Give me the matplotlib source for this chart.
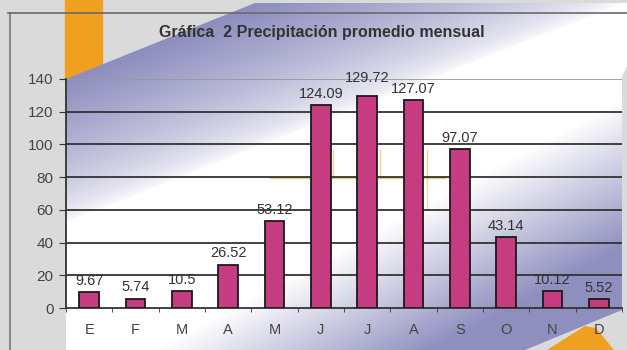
import numpy as np
import matplotlib.pyplot as plt
from matplotlib.patches import Polygon, Rectangle

plt.rcParams['font.family'] = ['Liberation Sans', 'DejaVu Sans']

# monthly data
meses = ['E', 'F', 'M', 'A', 'M', 'J', 'J', 'A', 'S', 'O', 'N', 'D']
precip = [9.67, 5.74, 10.5, 26.52, 53.12, 124.09, 129.72, 127.07, 97.07, 43.14, 10.12, 5.52]
etiquetas = ['9.67', '5.74', '10.5', '26.52', '53.12', '124.09', '129.72', '127.07',
             '97.07', '43.14', '10.12', '5.52']
yticks = [0, 20, 40, 60, 80, 100, 120, 140]

W, H = 627, 350
fig = plt.figure(figsize=(W / 100, H / 100), dpi=100)
fig.patch.set_facecolor('#dadada')

# slide background drawn in pixel coordinates
bg = fig.add_axes([0, 0, 1, 1])
bg.set_xlim(0, W)
bg.set_ylim(H, 0)
bg.axis('off')

bg.add_patch(Rectangle((65, 0), 37, 80, color='#f0a020', zorder=1))
bg.plot([10, 10], [13, H], color='#8a8a8a', lw=1.5, zorder=1)

# gradient panel: lavender at top-left and bottom-right, white in the middle
xx, yy = np.meshgrid(np.arange(W) + 0.5, np.arange(H) + 0.5)
t1 = np.clip(1 - ((xx - 60) / 560 + (yy - 5) / 220), 0, 1) ** 0.65
t2 = np.clip((xx - 350) / 280 + (yy - 200) / 150 - 0.3, 0, 1) * 0.75
t = np.maximum(t1, t2)
purple = np.array([105, 105, 170]) / 255
white = np.array([1.0, 1.0, 1.0])
img = white[None, None, :] * (1 - t[..., None]) + purple[None, None, :] * t[..., None]
panel = Polygon([(66, 79), (255, 3), (627, 3), (627, 66), (622, 76), (622, 310),
                 (525, 350), (66, 350)],
                closed=True, facecolor='none', edgecolor='none')
bg.add_patch(panel)
im = bg.imshow(img, extent=(0, W, H, 0), zorder=2, interpolation='bilinear')
im.set_clip_path(panel)

bg.plot([8, W], [13, 13], color='#6a6a6a', lw=1.2, zorder=3)
bg.add_patch(Polygon([(547, 350), (585, 326), (596, 328), (614, 350)], closed=True,
                     facecolor='#f0a020', edgecolor='none', zorder=3))

# faint orange pattern behind the bars
bg.plot([270, 445], [178, 178], color='#f0b040', lw=1, alpha=0.7, zorder=3)
for xv in [312, 333, 357, 380, 403, 427]:
    bg.plot([xv, xv], [150, 178], color='#f0b040', lw=1, alpha=0.6, zorder=3)
bg.plot([427, 427], [178, 208], color='#f0b040', lw=0.8, alpha=0.5, zorder=3)

fig.text(322 / W, 1 - 33 / H, 'Gráfica  2 Precipitación promedio mensual', ha='center',
         va='center', fontsize=11.5, fontweight='bold', color='#333333')

# chart
ax = fig.add_axes([66 / W, (H - 308) / H, (622 - 66) / W, (308 - 79) / H])
ax.patch.set_alpha(0)
x = np.arange(len(meses))
ax.bar(x, precip, width=0.42, color='#c63c80', edgecolor='#1a1a1a', linewidth=1.3, zorder=3)

ax.set_xlim(-0.5, len(meses) - 0.5)
ax.set_ylim(0, 140)
ax.set_yticks(yticks)
ax.set_yticklabels([str(v) for v in yticks], fontsize=11, color='#444444')
for v in yticks[1:-1]:
    ax.axhline(v, color='#333333', lw=1.3, zorder=1)
ax.axhline(140, color='#9a9a9a', lw=1.3, zorder=1)

ax.set_xticks(x)
ax.set_xticklabels(meses, fontsize=10.5, color='#444444')
ax.tick_params(axis='x', length=0, pad=11)
ax.set_xticks(np.arange(len(meses) + 1) - 0.5, minor=True)
ax.tick_params(axis='x', which='minor', length=3, color='#333333', direction='out')
ax.tick_params(axis='y', length=5, color='#333333', pad=4)

for s in ['top', 'right']:
    ax.spines[s].set_visible(False)
ax.spines['left'].set_color('#333333')
ax.spines['bottom'].set_color('#333333')
ax.spines['left'].set_linewidth(1.3)
ax.spines['bottom'].set_linewidth(1.3)

for i, (v, lab) in enumerate(zip(precip, etiquetas)):
    off = 8 if i == 6 else 3
    ax.annotate(lab, (i, v), xytext=(0, off), textcoords='offset points',
                ha='center', va='bottom', fontsize=10.5, color='#333333', zorder=4,
                annotation_clip=False)

fig.savefig('out.png', dpi=100, facecolor=fig.get_facecolor())
